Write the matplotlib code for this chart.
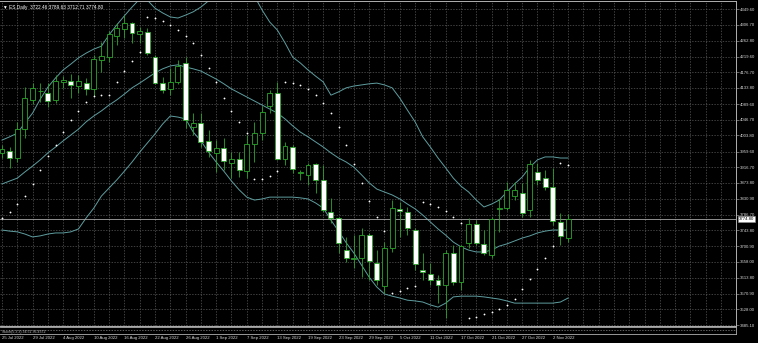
import matplotlib
matplotlib.use("Agg")
import matplotlib.pyplot as plt
from matplotlib.patches import Rectangle
from matplotlib.transforms import blended_transform_factory

# daily OHLC (25 Jul 2022 .. 4 Nov 2022)
opens = [3955.7, 3961.2, 3942.0, 4021.4, 4100.7, 4124.0, 4119.9, 4100.7, 4151.3, 4152.7,
         4139.0, 4147.2, 4130.8, 4210.1, 4218.3, 4275.8, 4295.0, 4311.4, 4281.3, 4286.7,
         4218.3, 4147.2, 4130.8, 4149.9, 4201.9, 4026.8, 4037.8, 3988.5, 3955.7, 3969.4,
         3928.3, 3939.3, 3906.4, 3980.3, 4010.4, 4084.3, 4119.9, 3939.3, 3972.1, 3902.3,
         3895.5, 3925.6, 3881.8, 3794.3, 3777.9, 3690.3, 3667.0, 3668.4, 3731.3, 3654.7,
         3591.8, 3695.8, 3802.5, 3794.3, 3745.0, 3635.6, 3624.6, 3608.2, 3594.5, 3682.1,
         3602.7, 3709.5, 3761.4, 3706.7, 3676.6, 3803.8, 3805.2, 3838.0, 3846.3, 3799.7,
         3903.7, 3887.3, 3862.7, 3766.9, 3722.46]
highs = [3977.6, 3972.1, 4040.5, 4136.3, 4147.2, 4147.2, 4147.2, 4169.1, 4166.4, 4171.8,
         4169.1, 4160.9, 4223.8, 4259.4, 4289.5, 4311.4, 4333.3, 4314.1, 4300.4, 4297.7,
         4223.8, 4163.6, 4188.3, 4210.1, 4218.3, 4065.1, 4065.1, 4018.6, 3991.3, 3996.7,
         3958.4, 3958.4, 4004.9, 4040.5, 4084.3, 4128.1, 4149.9, 3985.8, 3977.6, 3909.2,
         3928.3, 3928.3, 3922.9, 3832.6, 3780.6, 3725.9, 3731.3, 3750.5, 3736.8, 3690.3,
         3712.2, 3827.1, 3821.6, 3807.9, 3750.5, 3682.1, 3654.7, 3621.9, 3690.3, 3704.0,
         3704.0, 3777.9, 3772.4, 3745.0, 3780.6, 3829.8, 3876.3, 3876.3, 3873.6, 3936.5,
         3928.3, 3909.2, 3914.7, 3791.5, 3789.63]
lows = [3942.0, 3914.7, 3931.1, 3996.7, 4089.8, 4095.2, 4081.5, 4092.5, 4133.5, 4106.2,
        4119.9, 4114.4, 4111.6, 4177.3, 4204.7, 4251.2, 4270.3, 4256.7, 4256.7, 4223.8,
        4144.5, 4119.9, 4114.4, 4144.5, 4024.1, 4004.9, 3972.1, 3944.7, 3903.7, 3909.2,
        3887.3, 3890.0, 3887.3, 3931.1, 3991.3, 4065.1, 3936.5, 3922.9, 3901.0, 3881.8,
        3868.1, 3846.3, 3794.3, 3764.2, 3682.1, 3657.5, 3641.1, 3616.4, 3608.2, 3594.5,
        3572.7, 3684.8, 3725.9, 3731.3, 3635.6, 3608.2, 3594.5, 3545.3, 3504.3, 3594.5,
        3580.9, 3695.8, 3704.0, 3676.6, 3668.4, 3739.5, 3799.7, 3827.1, 3780.6, 3780.6,
        3868.1, 3854.5, 3758.7, 3704.0, 3712.71]
closes = [3966.6, 3942.0, 4021.4, 4106.2, 4133.5, 4126.7, 4098.0, 4152.7, 4154.1, 4141.7,
          4152.7, 4130.8, 4212.9, 4221.1, 4281.3, 4297.7, 4311.4, 4284.0, 4289.5, 4229.3,
          4147.2, 4128.1, 4149.9, 4193.7, 4046.0, 4037.8, 3985.8, 3961.2, 3969.4, 3933.8,
          3939.3, 3909.2, 3980.3, 4010.4, 4067.9, 4119.9, 3939.3, 3974.8, 3911.9, 3905.1,
          3922.9, 3881.8, 3799.7, 3777.9, 3709.5, 3668.4, 3669.8, 3731.3, 3660.2, 3608.2,
          3695.8, 3805.2, 3797.0, 3750.5, 3652.0, 3630.1, 3608.2, 3594.5, 3682.1, 3602.7,
          3701.2, 3761.4, 3709.5, 3682.1, 3775.1, 3806.6, 3854.5, 3854.5, 3791.5, 3925.6,
          3881.8, 3862.7, 3769.6, 3728.6, 3774.80]

# bollinger bands
upper = [3991, 4000, 4010, 4038, 4065, 4103, 4136, 4161, 4183, 4199,
         4216, 4229, 4240, 4248, 4279, 4306, 4331, 4355, 4377, 4374,
         4352, 4339, 4328, 4325, 4333, 4342, 4355, 4372, 4388, 4402,
         4410, 4410, 4402, 4385, 4347, 4314, 4292, 4257, 4218, 4202,
         4183, 4166, 4150, 4114, 4123, 4134, 4139, 4142, 4145, 4147,
         4142, 4134, 4106, 4073, 4041, 4000, 3972, 3942, 3915, 3887,
         3865, 3849, 3827, 3808, 3816, 3827, 3849, 3871, 3890, 3917,
         3937, 3945, 3945, 3942, 3942]
middle = [3871, 3879, 3887, 3904, 3920, 3937, 3956, 3972, 3989, 4005,
          4021, 4041, 4057, 4071, 4087, 4101, 4117, 4134, 4147, 4161,
          4175, 4186, 4194, 4197, 4191, 4186, 4180, 4169, 4158, 4145,
          4131, 4120, 4109, 4098, 4087, 4076, 4065, 4049, 4030, 4013,
          4000, 3986, 3972, 3956, 3942, 3931, 3917, 3896, 3874, 3857,
          3849, 3841, 3830, 3816, 3803, 3786, 3767, 3748, 3731, 3712,
          3699, 3690, 3685, 3685, 3690, 3701, 3707, 3715, 3723, 3729,
          3737, 3742, 3745, 3745, 3745]
lower = [3745, 3742, 3740, 3734, 3726, 3729, 3734, 3737, 3737, 3740,
         3748, 3778, 3805, 3838, 3860, 3882, 3906, 3931, 3958, 3983,
         4008, 4035, 4057, 4054, 4049, 4013, 3989, 3958, 3931, 3906,
         3879, 3855, 3835, 3827, 3830, 3835, 3835, 3835, 3835, 3833,
         3830, 3819, 3805, 3772, 3742, 3710, 3682, 3649, 3616, 3589,
         3570, 3564, 3559, 3553, 3551, 3548, 3540, 3534, 3545, 3562,
         3564, 3564, 3564, 3562, 3559, 3556, 3551, 3545, 3545, 3545,
         3545, 3545, 3545, 3548, 3559]

# parabolic SAR
sar = [3778, 3794, 3816, 3838, 3871, 3909, 3948, 3978, 4013, 4046,
       4071, 4095, 4112, 4114, 4114, 4150, 4180, 4207, 4232, 4328,
       4325, 4317, 4306, 4292, 4276, 4257, 4224, 4188, 4150, 4106,
       4071, 4041, 4010, 3885, 3885, 3893, 3906, 4150, 4147, 4142,
       4131, 4114, 4093, 4065, 4027, 3978, 3926, 3874, 3824, 3781,
       3742, 3573, 3578, 3586, 3592, 3822, 3816, 3808, 3797, 3781,
       3764, 3504, 3507, 3515, 3521, 3529, 3540, 3556, 3584, 3611,
       3638, 3668, 3701, 3928, 3923]

price_ticks = [4349.60, 4306.70, 4262.80, 4219.60, 4176.70, 4133.80, 4089.60, 4046.70,
               4003.80, 3959.60, 3916.70, 3873.80, 3830.90, 3786.70, 3743.80, 3700.90,
               3658.00, 3613.80, 3570.90, 3528.00, 3485.10]
date_labels = ["25 Jul 2022", "29 Jul 2022", "4 Aug 2022", "10 Aug 2022", "16 Aug 2022",
               "22 Aug 2022", "26 Aug 2022", "1 Sep 2022", "7 Sep 2022", "13 Sep 2022",
               "19 Sep 2022", "23 Sep 2022", "29 Sep 2022", "5 Oct 2022", "11 Oct 2022",
               "17 Oct 2022", "21 Oct 2022", "27 Oct 2022", "2 Nov 2022"]
date_idx = [0, 4, 8, 12, 16, 20, 24, 28, 32, 36, 40, 44, 48, 52, 56, 60, 64, 68, 72]

last_price = 3774.80
title = "\u25bc ES,Daily  3722.46 3789.63 3712.71 3774.80"

GREEN = "#2aa82a"
BAND = "#5f9ea0"
GRID = "#5a5a5a"
FONT = ["Liberation Sans", "DejaVu Sans"]
plt.rcParams["font.family"] = FONT

W, H = 758, 343
fig = plt.figure(figsize=(W / 100, H / 100), dpi=100, facecolor="black")
ax = fig.add_axes([0, 1 - 326 / H, 736 / W, 325 / H], facecolor="black")
x0, x1 = -0.26, 95.95
ax.set_xlim(x0, x1)
ax.set_ylim(3482.4, 4371.6)

# grid
ax.set_xticks(range(0, 96, 2), minor=True)
ax.set_xticks([])
ax.set_yticks(price_ticks)
ax.set_yticklabels([f"{v:.2f}" for v in price_ticks])
ax.grid(True, which="minor", axis="x", color=GRID, lw=0.5, ls=(0, (2, 2)))
ax.grid(True, which="major", axis="y", color=GRID, lw=0.5, ls=(0, (2, 2)))
ax.yaxis.tick_right()
ax.tick_params(axis="y", colors="#909090", labelcolor="#d8d8d8", labelsize=3.1,
               length=2, width=0.5, pad=1)
ax.tick_params(axis="x", which="both", length=0)
ax.set_axisbelow(True)
for side in ["right", "top", "bottom"]:
    ax.spines[side].set_color("#b0b0b0")
    ax.spines[side].set_linewidth(0.7)
ax.spines["left"].set_visible(False)

xs = list(range(len(opens)))

# bands + SAR
ax.plot(xs, upper, color=BAND, lw=0.7, zorder=2)
ax.plot(xs, middle, color=BAND, lw=0.7, zorder=2)
ax.plot(xs, lower, color=BAND, lw=0.7, zorder=2)
ax.plot(xs, sar, ls="none", marker="o", ms=1.3, mfc="white", mec="none", zorder=4)

# candles
bw = 0.64
for i, (o, h, l, c) in enumerate(zip(opens, highs, lows, closes)):
    ax.vlines(i, l, h, color=GREEN, lw=0.6, zorder=3)
    fc = "black" if c >= o else "white"
    ax.add_patch(Rectangle((i - bw / 2, min(o, c)), bw, max(abs(c - o), 0.5),
                           facecolor=fc, edgecolor=GREEN, lw=0.6, zorder=3.5))

# current price line + box
ax.axhline(last_price, color="#a8a8a8", lw=0.6, zorder=2.5)
tr = blended_transform_factory(ax.transAxes, ax.transData)
ax.text(1.004, last_price, f"{last_price:.2f}", transform=tr, fontsize=3.1, color="black",
        va="center", ha="left", zorder=10, clip_on=False,
        bbox=dict(boxstyle="square,pad=0.2", fc="white", ec="#909090", lw=0.4))

ax.text(0.004, 0.988, title, transform=ax.transAxes, fontsize=3.4, color="white",
        va="top", ha="left")

# small sub-window strip + date axis
sub = fig.add_axes([0, 1 - 334 / H, 736 / W, 7 / H], facecolor="black")
sub.set_xlim(x0, x1)
sub.set_ylim(0, 1)
sub.set_yticks([])
sub.set_xticks(date_idx)
sub.set_xticklabels(date_labels, ha="left")
sub.tick_params(axis="x", length=0, pad=1.2, labelsize=3.1, labelcolor="#d8d8d8")
sub.axhline(0.55, color="#8a8a8a", lw=0.5, ls=(0, (2, 2)))
for side in ["right", "top", "bottom"]:
    sub.spines[side].set_color("#b0b0b0")
    sub.spines[side].set_linewidth(0.6)
sub.spines["left"].set_visible(False)
sub.text(0.003, 0.3, "Stoch(5,3,3) 34.51 36.4372", transform=sub.transAxes,
         fontsize=2.6, color="#c0c0c0", va="center", ha="left")

fig.savefig("out.png", dpi=100, facecolor="black")
